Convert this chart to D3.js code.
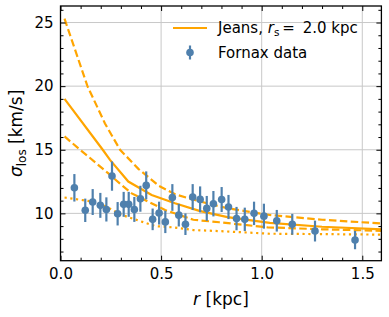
<!DOCTYPE html>
<html>
<head>
<meta charset="utf-8">
<script src="https://cdn.jsdelivr.net/npm/d3@7"></script>
<style>
    body { margin: 0; background: #fff; }
    text { font-family: "DejaVu Sans", sans-serif; }
</style>
</head>
<body>
<div id="chart"></div>
<script>
// Fornax data points
var dataR = [0.069, 0.123, 0.160, 0.198, 0.228, 0.256, 0.284, 0.314, 0.339, 0.367, 0.397, 0.426,
    0.458, 0.490, 0.521, 0.556, 0.588, 0.621, 0.657, 0.694, 0.727, 0.760, 0.801, 0.835,
    0.875, 0.916, 0.962, 1.011, 1.075, 1.152, 1.265, 1.464];
var dataSigma = [12.01, 10.24, 10.89, 10.63, 10.31, 12.93, 9.97, 10.71, 10.71, 10.31, 11.15, 12.2,
    9.53, 10.02, 9.33, 11.25, 9.86, 9.15, 11.28, 11.1, 10.39, 10.76, 11.09, 10.5,
    9.59, 9.53, 10.0, 9.78, 9.42, 9.14, 8.61, 7.9];
var dataErr = [1.08, 0.92, 1.02, 0.98, 0.95, 1.15, 0.92, 0.98, 0.98, 0.98, 1.02, 1.1,
    0.85, 0.9, 0.88, 1.05, 0.89, 0.85, 1.02, 1.02, 0.98, 1.0, 0.98, 0.95,
    0.92, 0.92, 0.92, 0.98, 0.85, 0.82, 0.82, 0.72];

// Jeans model curves
var midR = [0.02, 0.21, 0.246, 0.337, 0.453, 0.569, 0.69, 0.83, 1.04, 1.3, 1.6];
var midSigma = [19.0, 15.0, 14.2, 12.5, 11.45, 10.8, 10.2, 9.7, 9.25, 8.95, 8.74];

var upR = [0.02, 0.134, 0.221, 0.296, 0.387, 0.49, 0.57, 0.69, 0.83, 1.04, 1.3, 1.6];
var upSigma = [25.3, 20.0, 17.07, 15.0, 13.5, 12.15, 11.5, 10.95, 10.4, 9.87, 9.5, 9.2];

var lowR = [0.02, 0.097, 0.138, 0.238, 0.304, 0.354, 0.52, 0.66, 0.79, 1.03, 1.3, 1.6];
var lowSigma = [16.05, 15.0, 14.47, 13.14, 12.22, 11.57, 10.26, 9.5, 9.3, 8.9, 8.75, 8.63];

var dotR = [0.02, 0.19, 0.3, 0.47, 0.56, 0.66, 0.8, 1.04, 1.3, 1.6];
var dotSigma = [11.25, 10.85, 9.9, 9.0, 8.9, 8.69, 8.6, 8.4, 8.37, 8.33];

var xTicks = [0.0, 0.5, 1.0, 1.5];
var yTicks = [10, 15, 20, 25];

var width = 389, height = 317;
var mLeft = 60.5, mRight = 381.4, mTop = 6, mBottom = 260.7;
var orange = "#ffa500";
var blue = "#4f80ad";

var svg = d3.select("#chart").append("svg")
    .attr("width", width)
    .attr("height", height);

var xScale = d3.scaleLinear().domain([0, 1.595]).range([mLeft, mRight]);
var yScale = d3.scaleLinear().domain([6.28, 26.3]).range([mBottom, mTop]);

var xMinor = d3.range(0, 1.6, 0.1).filter(function (d) { return Math.abs(d * 2 - Math.round(d * 2)) > 1e-6; });
var yMinor = d3.range(7, 27, 1).filter(function (d) { return d % 5 !== 0; });

// grid
svg.append("g").selectAll("line").data(xTicks).enter().append("line")
    .attr("x1", function (d) { return xScale(d); })
    .attr("x2", function (d) { return xScale(d); })
    .attr("y1", mTop).attr("y2", mBottom)
    .attr("stroke", "#c8c8c8").attr("stroke-width", 1);
svg.append("g").selectAll("line").data(yTicks).enter().append("line")
    .attr("y1", function (d) { return yScale(d); })
    .attr("y2", function (d) { return yScale(d); })
    .attr("x1", mLeft).attr("x2", mRight)
    .attr("stroke", "#c8c8c8").attr("stroke-width", 1);

// clip for curves
svg.append("clipPath").attr("id", "clip").append("rect")
    .attr("x", mLeft).attr("y", mTop).attr("width", mRight - mLeft).attr("height", mBottom - mTop);

function drawCurve(rs, sig, dash) {
    var pts = rs.map(function (r, i) { return [r, sig[i]]; });
    var line = d3.line()
        .x(function (d) { return xScale(d[0]); })
        .y(function (d) { return yScale(d[1]); });
    svg.append("path")
        .datum(pts)
        .attr("clip-path", "url(#clip)")
        .attr("fill", "none")
        .attr("stroke", orange)
        .attr("stroke-width", 2.2)
        .attr("stroke-dasharray", dash)
        .attr("d", line);
}

drawCurve(dotR, dotSigma, "2.2,3.6");
drawCurve(lowR, lowSigma, "7.5,3.4");
drawCurve(upR, upSigma, "7.5,3.4");
drawCurve(midR, midSigma, null);

// data with error bars
var pts = svg.append("g");
dataR.forEach(function (r, i) {
    pts.append("line")
        .attr("x1", xScale(r)).attr("x2", xScale(r))
        .attr("y1", yScale(dataSigma[i] - dataErr[i]))
        .attr("y2", yScale(dataSigma[i] + dataErr[i]))
        .attr("stroke", blue).attr("stroke-width", 2.2);
    pts.append("circle")
        .attr("cx", xScale(r)).attr("cy", yScale(dataSigma[i]))
        .attr("r", 3.8).attr("fill", blue);
});

// axes, ticks pointing inwards
function styleAxis(g) {
    g.select(".domain").remove();
    g.selectAll(".tick line").attr("stroke", "#000").attr("stroke-width", 1);
    g.selectAll("text").attr("fill", "#000").style("font-size", "15px");
}

svg.append("g").attr("transform", "translate(0," + mBottom + ")")
    .call(d3.axisBottom(xScale).tickValues(xTicks).tickSize(-5).tickPadding(8).tickFormat(d3.format(".1f")))
    .call(styleAxis);
svg.append("g").attr("transform", "translate(0," + mBottom + ")")
    .call(d3.axisBottom(xScale).tickValues(xMinor).tickSize(-3).tickFormat(""))
    .call(styleAxis);
svg.append("g").attr("transform", "translate(0," + mTop + ")")
    .call(d3.axisTop(xScale).tickValues(xTicks).tickSize(-5).tickFormat(""))
    .call(styleAxis);
svg.append("g").attr("transform", "translate(0," + mTop + ")")
    .call(d3.axisTop(xScale).tickValues(xMinor).tickSize(-3).tickFormat(""))
    .call(styleAxis);

svg.append("g").attr("transform", "translate(" + mLeft + ",0)")
    .call(d3.axisLeft(yScale).tickValues(yTicks).tickSize(-5).tickPadding(7))
    .call(styleAxis);
svg.append("g").attr("transform", "translate(" + mLeft + ",0)")
    .call(d3.axisLeft(yScale).tickValues(yMinor).tickSize(-3).tickFormat(""))
    .call(styleAxis);
svg.append("g").attr("transform", "translate(" + mRight + ",0)")
    .call(d3.axisRight(yScale).tickValues(yTicks).tickSize(-5).tickFormat(""))
    .call(styleAxis);
svg.append("g").attr("transform", "translate(" + mRight + ",0)")
    .call(d3.axisRight(yScale).tickValues(yMinor).tickSize(-3).tickFormat(""))
    .call(styleAxis);

// frame
svg.append("rect")
    .attr("x", mLeft).attr("y", mTop).attr("width", mRight - mLeft).attr("height", mBottom - mTop)
    .attr("fill", "none").attr("stroke", "#000").attr("stroke-width", 1.3);

// axis labels
var xl = svg.append("text")
    .attr("x", (mLeft + mRight) / 2).attr("y", 305)
    .attr("text-anchor", "middle").style("font-size", "17px");
xl.append("tspan").style("font-style", "italic").text("r");
xl.append("tspan").text(" [kpc]");

var yl = svg.append("text")
    .attr("transform", "translate(22," + (mTop + mBottom) / 2 + ") rotate(-90)")
    .attr("text-anchor", "middle").style("font-size", "17px");
yl.append("tspan").style("font-style", "italic").text("σ");
yl.append("tspan").attr("dy", 4).style("font-size", "12px").text("los");
yl.append("tspan").attr("dy", -4).text(" [km/s]");

// legend
var lg = svg.append("g");
lg.append("line")
    .attr("x1", 173).attr("x2", 207).attr("y1", 28).attr("y2", 28)
    .attr("stroke", orange).attr("stroke-width", 2.2);
var lt = lg.append("text").attr("x", 218).attr("y", 33).style("font-size", "15px");
lt.append("tspan").text("Jeans, ");
lt.append("tspan").style("font-style", "italic").text("r");
lt.append("tspan").attr("dy", 3).style("font-size", "10.5px").text("s");
lt.append("tspan").attr("dy", -3).text("\u2009=\u2009 2.0 kpc");

lg.append("line")
    .attr("x1", 190).attr("x2", 190).attr("y1", 45.5).attr("y2", 59.5)
    .attr("stroke", blue).attr("stroke-width", 2.2);
lg.append("circle").attr("cx", 190).attr("cy", 52.5).attr("r", 3.8).attr("fill", blue);
lg.append("text").attr("x", 218).attr("y", 57.5).style("font-size", "15px").text("Fornax data");
</script>
</body>
</html>
